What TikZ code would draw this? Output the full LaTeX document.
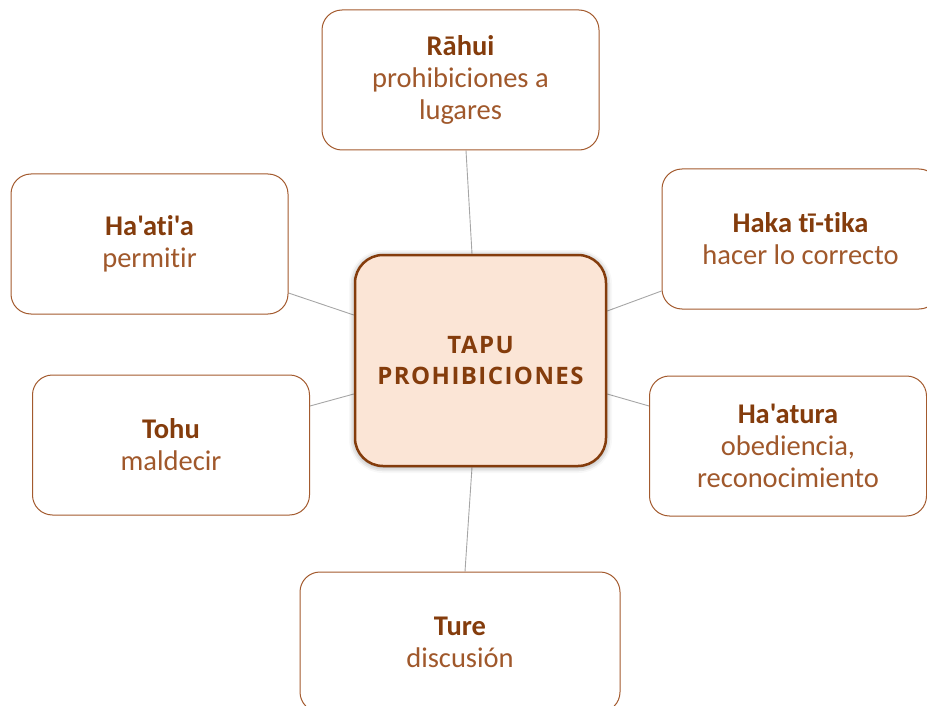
\documentclass[tikz,border=0pt]{standalone}
\usepackage{fontspec}
\setmainfont{Carlito}[Ligatures={TeXOff,NoCommon}]
\newfontfamily\centerfont[LetterSpace=6]{Open Sans}
\usetikzlibrary{shadows.blur,backgrounds}
\definecolor{darkbrown}{HTML}{843C0C}
\definecolor{litebrown}{HTML}{A0582B}
\definecolor{boxline}{HTML}{A35A2E}
\definecolor{centerfill}{HTML}{FBE5D6}
\definecolor{linkgray}{HTML}{A6A6A6}
\tikzset{
  leaf/.style={draw=boxline, line width=1pt, rounded corners=20pt, fill=white,
    minimum width=277pt, minimum height=140pt, align=center, inner sep=0pt,
    font=\fontsize{28.5}{32}\selectfont, text=litebrown},
  hub/.style={draw=darkbrown, line width=2.5pt, rounded corners=28pt, fill=centerfill,
    minimum width=251pt, minimum height=211pt, align=center, inner sep=0pt,
    font=\centerfont\bfseries\fontsize{24}{31}\selectfont, text=darkbrown,
    blur shadow={shadow xshift=0pt, shadow yshift=-1pt, shadow blur radius=6pt, shadow opacity=45}},
  link/.style={draw=linkgray, line width=0.9pt}
}
\newcommand{\ttlline}[1]{{\bfseries\color{darkbrown}#1}}
\begin{document}
\begin{tikzpicture}[x=1pt,y=-1pt]
\useasboundingbox (0,0) rectangle (927,706);
\node[leaf] (rahui) at (460.5,80) {\ttlline{Rāhui}\\prohibiciones a\\lugares};
\node[leaf] (haati) at (149.5,244) {\ttlline{Ha'ati'a}\\permitir};
\node[leaf] (haka) at (800.5,239) {\ttlline{Haka tī-tika}\\hacer lo correcto};
\node[leaf] (tohu) at (171,445) {\ttlline{Tohu}\\maldecir};
\node[leaf] (haatura) at (788,446) {\ttlline{Ha'atura}\\obediencia,\\reconocimiento};
\node[leaf, minimum width=320pt] (ture) at (460,642) {\ttlline{Ture}\\discusión};
\node[hub] (tapu) at (480.5,360.5) {TAPU\\PROHIBICIONES};
\begin{scope}[on background layer]
\draw[link] ([xshift=5.5pt]rahui.south) -- ([xshift=-8.5pt]tapu.north);
\draw[link] ([yshift=-49pt]haati.east) -- ([yshift=45.5pt]tapu.west);
\draw[link] ([yshift=-52pt]haka.west) -- ([yshift=49.5pt]tapu.east);
\draw[link] ([yshift=39pt]tohu.east) -- ([yshift=-33.5pt]tapu.west);
\draw[link] ([yshift=40pt]haatura.west) -- ([yshift=-33.5pt]tapu.east);
\draw[link] ([xshift=5pt]ture.north) -- ([xshift=-8.5pt]tapu.south);
\end{scope}
\end{tikzpicture}
\end{document}
